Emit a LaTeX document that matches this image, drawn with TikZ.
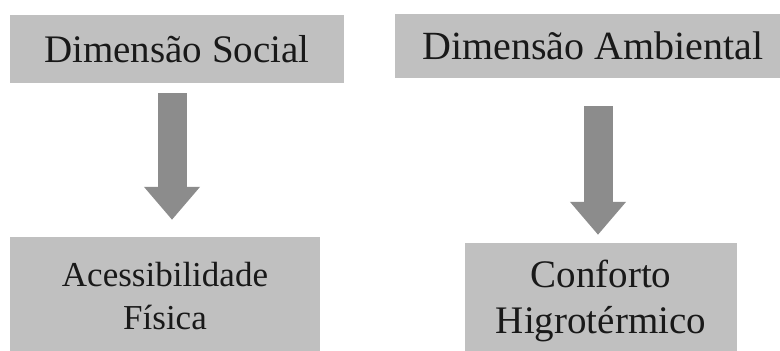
\documentclass[tikz,border=0pt]{standalone}
\usepackage{fontspec}
\setmainfont{Liberation Serif}
\usetikzlibrary{arrows.meta}
\definecolor{boxgray}{RGB}{192,192,192}
\definecolor{arrowgray}{RGB}{140,140,140}
\begin{document}
\begin{tikzpicture}[x=1pt,y=-1pt,
  box/.style={fill=boxgray,inner sep=0pt,align=center,text=black!90},
  seta/.style={arrowgray,line width=29pt,-{Triangle[width=54pt,length=33pt]}}]
\useasboundingbox (0,0) rectangle (780,351);
\fill[white] (0,0) rectangle (780,351);

\node[box,minimum width=334pt,minimum height=68pt,text height=26pt,text depth=0pt,font=\fontsize{39}{46}\selectfont] (soc) at (177,49) {Dimensão Social};
\node[box,minimum width=396pt,minimum height=64pt,text height=26pt,text depth=0pt,font=\fontsize{40}{46}\selectfont] (amb) at (593,46) {Dimensão Ambiental};
\node[box,minimum width=310pt,minimum height=119pt,font=\fontsize{35}{43}\selectfont] (fis) at (165,296.5) {Acessibilidade\\Física};
\node[box,minimum width=272pt,minimum height=116pt,font=\fontsize{39}{46}\selectfont] (hig) at (601,301) {Conforto\\Higrotérmico};

\draw[seta] ([xshift=-5pt,yshift=-10pt]soc.south) -- ([xshift=7pt,yshift=17pt]fis.north);
\draw[seta] ([xshift=5pt,yshift=-28pt]amb.south) -- ([xshift=-3pt,yshift=8pt]hig.north);
\end{tikzpicture}
\end{document}
